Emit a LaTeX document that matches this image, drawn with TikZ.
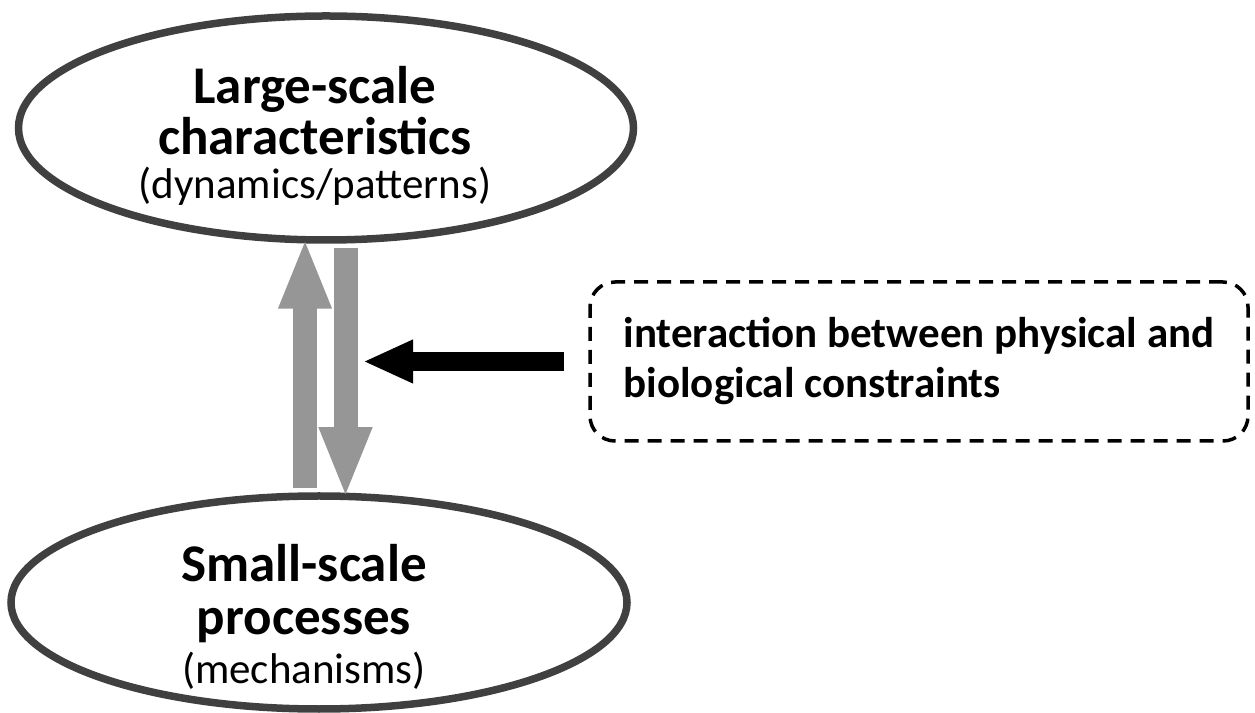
\documentclass[tikz,border=0pt]{standalone}
\usepackage{fontspec}
\setmainfont{Carlito}
\usetikzlibrary{arrows.meta, shapes.geometric}
\definecolor{rimgray}{RGB}{64,64,64}
\definecolor{arrowgray}{RGB}{150,150,150}

\begin{document}
\begin{tikzpicture}[x=1pt, y=1pt, >=Stealth,
    bubble/.style={ellipse, draw=rimgray, line width=7.5pt, inner sep=0pt},
    bigtxt/.style={align=center, font=\bfseries\fontsize{53}{56}\selectfont},
    grayarrow/.style={arrowgray, line width=24pt,
      -{Triangle[length=71pt, width=48pt]}},
    blackarrow/.style={black, line width=19pt,
      -{Triangle[length=50pt, width=40pt]}},
    constraint/.style={draw, dashed, line width=3.5pt, rounded corners=25pt,
      dash pattern=on 14pt off 9pt, align=left, inner sep=0pt,
      font=\bfseries\fontsize{43}{50}\selectfont}]
  \useasboundingbox (0,0) rectangle (1255,712);

  % top: large-scale ellipse and its text
  \node[bubble, minimum width=615pt, minimum height=224pt] (large) at (326,584) {};
  \node[bigtxt, font=\bfseries\fontsize{53}{51}\selectfont] (largetxt) at (315,576)
    {Large-scale\\characteristics\\[-7pt]
     {\mdseries\fontsize{43}{48}\selectfont (dynamics/patterns)}};

  % bottom: small-scale ellipse and its text
  \node[bubble, minimum width=616pt, minimum height=213pt] (small) at (319,109.5) {};
  \node[bigtxt, font=\bfseries\fontsize{53}{53}\selectfont] (smalltxt) at (304,95)
    {Small-scale\\processes\\[-4pt]
     {\mdseries\fontsize{43}{48}\selectfont (mechanisms)}};

  % right: dashed box with the constraints
  \node[constraint, minimum width=658pt, minimum height=159pt] (box) at (919,350.5)
    {interaction between physical and\\biological constraints};

  % up and down arrows between the scales
  \draw[grayarrow] ([xshift=-14pt,yshift=4pt]small.north)
    -- ([xshift=-21pt,yshift=6pt]large.south);
  \draw[grayarrow] ([xshift=19.5pt,yshift=-4pt]large.south)
    -- ([xshift=26.5pt,yshift=-6pt]small.north);

  % constraints acting on the downward arrow
  \coordinate (hit) at (363,352);
  \draw[blackarrow] ([xshift=-24pt]box.west) -- (hit |- box.west);
\end{tikzpicture}
\end{document}
